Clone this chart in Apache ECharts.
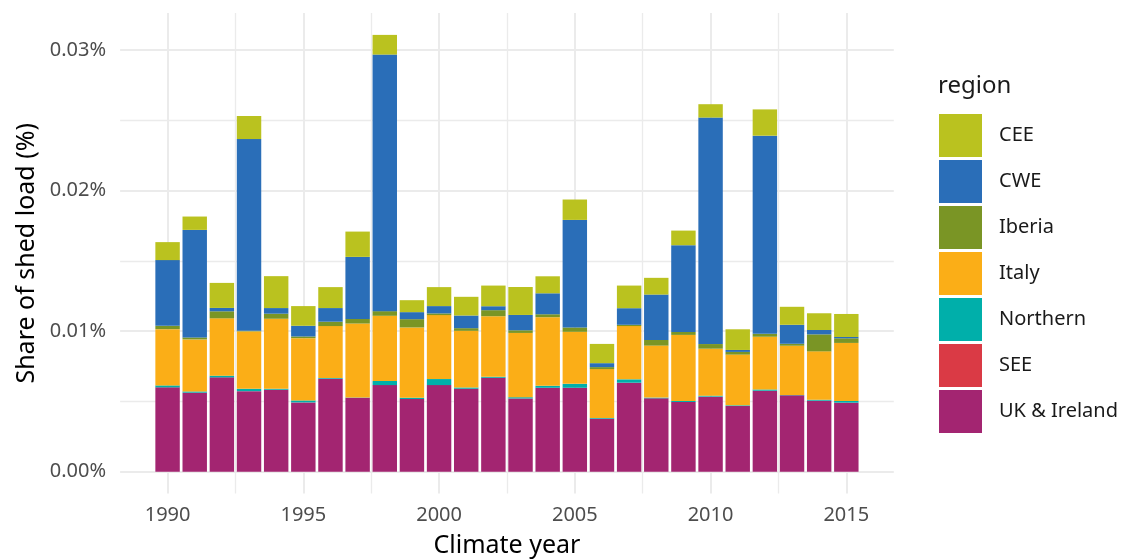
<!DOCTYPE html>
<html>
<head>
<meta charset="utf-8">
<script src="https://cdn.jsdelivr.net/npm/echarts@6/dist/echarts.min.js"></script>
<style>
html,body{margin:0;padding:0;background:#fff;}
#chart{width:1126px;height:559px;}
</style>
</head>
<body>
<div id="chart"></div>
<script>
// Climate years
const years = [1990,1991,1992,1993,1994,1995,1996,1997,1998,1999,2000,2001,2002,2003,2004,2005,2006,2007,2008,2009,2010,2011,2012,2013,2014,2015];

// Share of shed load (%) per region
const ukIreland = [0.00600,0.00562,0.00671,0.00573,0.00583,0.00493,0.00661,0.00526,0.00616,0.00517,0.00616,0.00590,0.00668,0.00521,0.00597,0.00597,0.00377,0.00633,0.00522,0.00496,0.00534,0.00467,0.00576,0.00543,0.00505,0.00491];
const see       = [0,0,0,0,0,0,0,0,0,0,0,0,0,0,0,0,0,0,0,0,0,0,0,0,0,0];
const northern  = [0.00014,0.00009,0.00012,0.00017,0.00007,0.00014,0.00005,0.00002,0.00029,0.00009,0.00043,0.00009,0.00007,0.00009,0.00014,0.00028,0.00005,0.00024,0.00005,0.00007,0.00007,0.00005,0.00009,0.00002,0.00007,0.00012];
const italy     = [0.00400,0.00370,0.00408,0.00408,0.00498,0.00443,0.00370,0.00526,0.00464,0.00500,0.00455,0.00403,0.00431,0.00457,0.00488,0.00370,0.00348,0.00379,0.00370,0.00470,0.00334,0.00361,0.00375,0.00351,0.00344,0.00413];
const iberia    = [0.00024,0.00014,0.00050,0.00005,0.00036,0.00012,0.00031,0.00033,0.00033,0.00059,0.00012,0.00019,0.00043,0.00019,0.00021,0.00031,0.00014,0.00009,0.00040,0.00021,0.00033,0.00019,0.00021,0.00014,0.00121,0.00033];
const cwe       = [0.00467,0.00765,0.00024,0.01363,0.00040,0.00076,0.00097,0.00441,0.01825,0.00050,0.00052,0.00090,0.00028,0.00109,0.00149,0.00765,0.00028,0.00118,0.00323,0.00617,0.01611,0.00014,0.01409,0.00135,0.00031,0.00009];
const cee       = [0.00128,0.00095,0.00178,0.00164,0.00227,0.00140,0.00149,0.00180,0.00140,0.00085,0.00135,0.00133,0.00147,0.00199,0.00121,0.00145,0.00137,0.00161,0.00119,0.00104,0.00095,0.00147,0.00187,0.00128,0.00119,0.00164];

// Axis ticks
const xMajorTicks = [1990,1995,2000,2005,2010,2015];
const xMinorTicks = [1992.5,1997.5,2002.5,2007.5,2012.5];
const yMajorTicks = [0,0.01,0.02,0.03];
const yMinorTicks = [0.005,0.015,0.025];

const legendOrder = ['CEE','CWE','Iberia','Italy','Northern','SEE','UK & Ireland'];

const FONT = 'Noto Sans';
const colors = {
  'UK & Ireland':'#A32571','SEE':'#DA3A45','Northern':'#00AFAA','Italy':'#FBAE17',
  'Iberia':'#7A9525','CWE':'#2A6EB8','CEE':'#BAC21F'
};
const stackOrder = [['UK & Ireland',ukIreland],['SEE',see],['Northern',northern],['Italy',italy],['Iberia',iberia],['CWE',cwe],['CEE',cee]];

const X_MIN = 1988.25, X_MAX = 2016.75;
const Y_MIN = -0.00155, Y_MAX = 0.03262;
const GRID_TOP = 13.1, GRID_BOTTOM = 65.5;

const chart = echarts.init(document.getElementById('chart'), null, {renderer:'canvas'});
chart.setOption({
  animation:false,
  backgroundColor:'#fff',
  textStyle:{fontFamily:FONT},
  title:{
    text:'region', left:938, top:74, padding:0,
    textStyle:{fontFamily:FONT,fontSize:24,fontWeight:'normal',color:'#1a1a1a'}
  },
  legend:{
    data:legendOrder, orient:'vertical', left:939, top:114,
    itemWidth:43, itemHeight:43, itemGap:3, icon:'rect', padding:0,
    textStyle:{fontFamily:FONT,fontSize:20,color:'#1a1a1a',padding:[0,0,0,12]},
    selectedMode:false
  },
  grid:[
    {left:154.0, right:266.1, top:GRID_TOP, bottom:GRID_BOTTOM, containLabel:false, outerBoundsMode:'none'},
    {left:120.1, right:232.2, top:GRID_TOP, bottom:GRID_BOTTOM, containLabel:false, outerBoundsMode:'none'}
  ],
  xAxis:[
    {gridIndex:0, type:'category', data:years, boundaryGap:true, show:false},
    {gridIndex:1, type:'value', min:X_MIN, max:X_MAX, position:'bottom',
      axisLine:{show:false},
      axisTick:{show:false, customValues:xMajorTicks},
      axisLabel:{customValues:xMajorTicks, formatter:v=>String(v), fontFamily:FONT, fontSize:20, color:'#4D4D4D', margin:12},
      splitLine:{show:true, lineStyle:{color:'#EBEBEB', width:2}},
      name:'Climate year', nameLocation:'middle', nameGap:40,
      nameTextStyle:{fontFamily:FONT, fontSize:25, color:'#000'}
    },
    {gridIndex:1, type:'value', min:X_MIN, max:X_MAX, position:'bottom',
      axisLine:{show:false},
      axisTick:{show:false, customValues:xMinorTicks},
      axisLabel:{show:false},
      splitLine:{show:true, lineStyle:{color:'#EBEBEB', width:1.3}}
    }
  ],
  yAxis:[
    {gridIndex:0, type:'value', min:Y_MIN, max:Y_MAX, show:false, splitLine:{show:false}},
    {gridIndex:1, type:'value', min:Y_MIN, max:Y_MAX,
      axisLine:{show:false},
      axisTick:{show:false, customValues:yMajorTicks},
      axisLabel:{customValues:yMajorTicks, formatter:v=>v.toFixed(2)+'%', fontFamily:FONT, fontSize:20, color:'#4D4D4D', margin:14},
      splitLine:{show:true, lineStyle:{color:'#EBEBEB', width:2}},
      name:'Share of shed load (%)', nameLocation:'middle', nameGap:74,
      nameTextStyle:{fontFamily:FONT, fontSize:25, color:'#000'}
    },
    {gridIndex:1, type:'value', min:Y_MIN, max:Y_MAX, position:'left',
      axisLine:{show:false},
      axisTick:{show:false, customValues:yMinorTicks},
      axisLabel:{show:false},
      splitLine:{show:true, lineStyle:{color:'#EBEBEB', width:1.3}}
    }
  ],
  series: stackOrder.map(([name, values]) => ({
    name: name, type:'bar', stack:'total', xAxisIndex:0, yAxisIndex:0,
    data: values, barWidth:'90%',
    itemStyle:{color:colors[name]},
    emphasis:{disabled:true}
  }))
});
</script>
</body>
</html>
